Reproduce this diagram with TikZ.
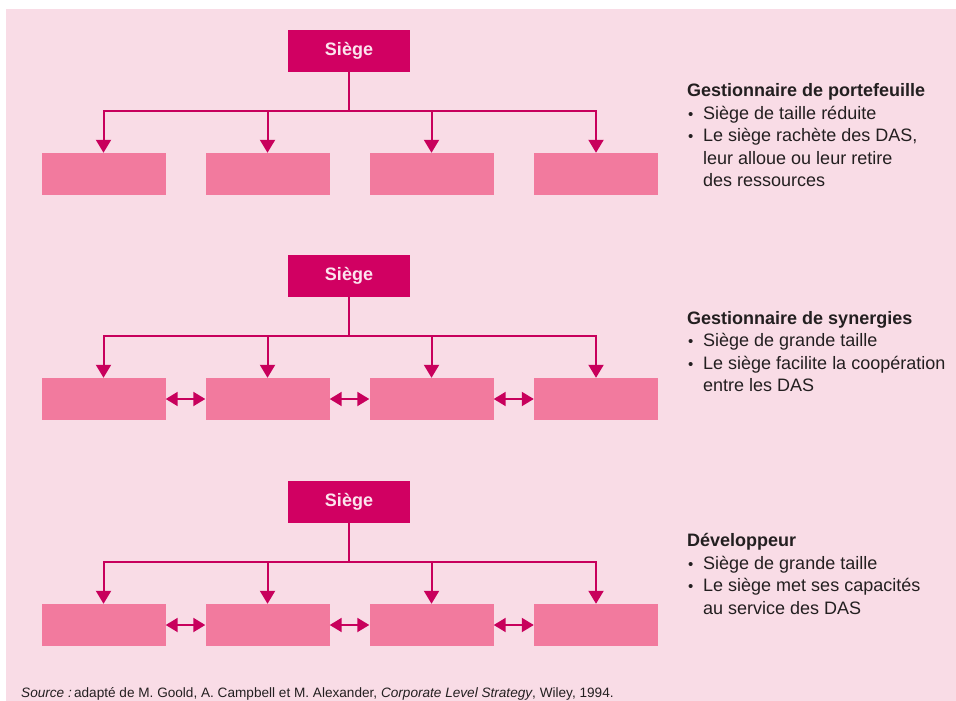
\documentclass[tikz,border=0pt]{standalone}
\usepackage{fontspec}
\setmainfont{Liberation Sans}
\usetikzlibrary{arrows.meta}
\definecolor{bgpink}{HTML}{F9DCE6}
\definecolor{hqfill}{HTML}{D10062}
\definecolor{unitfill}{HTML}{F27A9E}
\definecolor{linkcol}{HTML}{C8005C}
\definecolor{hqtext}{HTML}{FCE4EE}
\definecolor{bodytext}{HTML}{231F20}
\tikzset{
  hq/.style={fill=hqfill, draw=none, minimum width=122pt, minimum height=42pt,
    inner sep=0pt, text=hqtext, font=\fontsize{18}{20}\selectfont\bfseries},
  unit/.style={fill=unitfill, draw=none, minimum width=124pt, minimum height=42pt, inner sep=0pt},
  wire/.style={draw=linkcol, line width=2pt},
  down/.style={wire, -{Triangle[width=15pt,length=13pt]}},
  both/.style={wire, {Triangle[width=14pt,length=12pt]}-{Triangle[width=14pt,length=12pt]}},
  heading/.style={anchor=base west, inner sep=0pt, text=bodytext, font=\fontsize{18}{20}\selectfont\bfseries},
  line/.style={anchor=base west, inner sep=0pt, text=bodytext, font=\fontsize{18}{20}\selectfont},
  dot/.style={anchor=base west, inner sep=0pt, text=bodytext, font=\fontsize{15}{20}\selectfont},
  srcline/.style={anchor=base west, inner sep=0pt, text=bodytext, font=\fontsize{13.6}{15}\selectfont}
}
\begin{document}
\begin{tikzpicture}[x=1pt,y=-1pt]
\useasboundingbox (0,0) rectangle (956,701);
\fill[bgpink] (6,9) rectangle (956,701);

% three organisation charts, one per row
\foreach \r/\top in {1/30, 2/255, 3/481} {
  \node[hq] (s\r) at (349,\top+21) {Siège};
  \coordinate (bus\r) at (349,\top+81);
  \node[unit] (u\r a) at (103.5,\top+144) {};
  \node[unit] (u\r b) at (267.5,\top+144) {};
  \node[unit] (u\r c) at (431.5,\top+144) {};
  \node[unit] (u\r d) at (596,\top+144) {};
  \draw[wire] (s\r.south) -- (bus\r);
  \draw[down] (bus\r) -| (u\r a.north);
  \draw[down] (bus\r) -| (u\r b.north);
  \draw[down] (bus\r) -| (u\r c.north);
  \draw[down] (bus\r) -| (u\r d.north);
}

% cooperation between units in the second and third rows
\foreach \r in {2,3} {
  \draw[both] (u\r a.east) -- (u\r b.west);
  \draw[both] (u\r b.east) -- (u\r c.west);
  \draw[both] (u\r c.east) -- (u\r d.west);
}

% descriptions
\node[heading] (t1) at (687,96.7) {Gestionnaire de portefeuille};
\node[dot] (b1a) at (688,119) {•};
\node[line] (l1a) at (703,119) {Siège de taille réduite};
\node[dot] (b1b) at (688,141.5) {•};
\node[line] (l1b) at (703,141.5) {Le siège rachète des DAS,};
\node[line] (l1c) at (703,164) {leur alloue ou leur retire};
\node[line] (l1d) at (703,186.5) {des ressources};

\node[heading] (t2) at (687,324) {Gestionnaire de synergies};
\node[dot] (b2a) at (688,346.5) {•};
\node[line] (l2a) at (703,346.5) {Siège de grande taille};
\node[dot] (b2b) at (688,369) {•};
\node[line] (l2b) at (703,369) {Le siège facilite la coopération};
\node[line] (l2c) at (703,391.5) {entre les DAS};

\node[heading] (t3) at (687,546.7) {Développeur};
\node[dot] (b3a) at (688,569) {•};
\node[line] (l3a) at (703,569) {Siège de grande taille};
\node[dot] (b3b) at (688,591.5) {•};
\node[line] (l3b) at (703,591.5) {Le siège met ses capacités};
\node[line] (l3c) at (703,614) {au service des DAS};

\node[srcline] (src) at (21,697) {\textit{Source :}\,adapté de M. Goold, A. Campbell et M. Alexander, \textit{Corporate Level Strategy}, Wiley, 1994.};
\end{tikzpicture}
\end{document}
